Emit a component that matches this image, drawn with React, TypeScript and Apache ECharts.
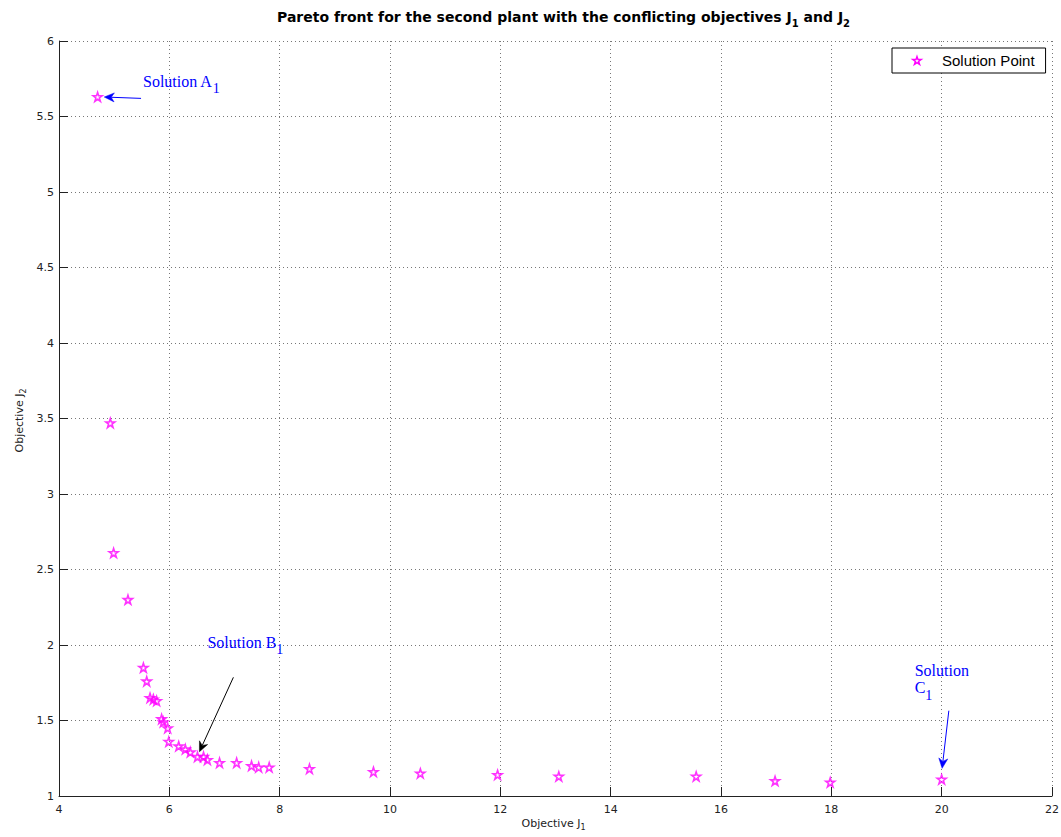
import React, { useEffect, useRef } from 'react';
import * as echarts from 'echarts';

// ---- data ----
const objectiveJ1 = [4.70, 4.93, 4.99, 5.25, 5.53, 5.59, 5.65, 5.71, 5.77, 5.86, 5.89, 5.97, 5.99, 6.17, 6.29, 6.38, 6.51, 6.62, 6.69, 6.91, 7.22, 7.49, 7.62, 7.81, 8.54, 9.70, 10.55, 11.95, 13.06, 15.55, 16.98, 17.98, 20.00];
const objectiveJ2 = [5.63, 3.47, 2.61, 2.30, 1.85, 1.76, 1.65, 1.64, 1.63, 1.51, 1.49, 1.45, 1.36, 1.33, 1.31, 1.29, 1.26, 1.26, 1.24, 1.22, 1.22, 1.20, 1.19, 1.19, 1.18, 1.16, 1.15, 1.14, 1.13, 1.13, 1.10, 1.09, 1.11];

const xTickValues = [4, 6, 8, 10, 12, 14, 16, 18, 20, 22];
const yTickValues = [1, 1.5, 2, 2.5, 3, 3.5, 4, 4.5, 5, 5.5, 6];

const seriesName = 'Solution Point';
type Run = { t: string; sub?: boolean };
const titleRuns: Run[] = [
  { t: 'Pareto front for the second plant with the conflicting objectives J' },
  { t: '1', sub: true },
  { t: ' and J' },
  { t: '2', sub: true },
];
const xNameRuns: Run[] = [{ t: 'Objective J' }, { t: '1', sub: true }];
const yNameRuns: Run[] = [{ t: 'Objective J' }, { t: '2', sub: true }];

// annotations (anchor = left edge / text middle of first line, in data coordinates)
const annotationTexts: { at: number[]; lines: Run[][] }[] = [
  { at: [5.523, 5.732], lines: [[{ t: 'Solution A' }, { t: '1', sub: true }]] },
  { at: [6.69, 2.017], lines: [[{ t: 'Solution B' }, { t: '1', sub: true }]] },
  { at: [19.511, 1.831], lines: [[{ t: 'Solution' }], [{ t: 'C' }, { t: '1', sub: true }]] },
];
const annotationArrows = [
  { from: [5.487, 5.62], to: [4.82, 5.629], color: '#0000ff' },
  { from: [7.161, 1.786], to: [6.545, 1.293], color: '#000000' },
  { from: [20.13, 1.565], to: [20.008, 1.183], color: '#0000ff' },
];

const SANS = 'Liberation Sans';
const DEJAVU = 'DejaVu Sans';
const SERIF = 'Liberation Serif';
const STAR = 'path://M50 0L61.2 34.5L97.6 34.5L68.2 55.9L79.4 90.5L50 69.1L20.6 90.5L31.8 55.9L2.4 34.5L38.8 34.5Z';

type FontSpec = { family: string; size: number; subSize: number; weight: string; dy: number; color: string };

const ctx = typeof document !== 'undefined' ? document.createElement('canvas').getContext('2d') : null;
function measure(text: string, size: number, family: string, weight: string) {
  if (!ctx) return text.length * size * 0.55;
  ctx.font = `${weight} ${size}px "${family}"`;
  return ctx.measureText(text).width;
}

function runElements(runs: Run[], f: FontSpec, x: number, y: number, align: 'left' | 'center') {
  const widths = runs.map((r) => measure(r.t, r.sub ? f.subSize : f.size, f.family, f.weight));
  const total = widths.reduce((a, b) => a + b, 0);
  let cx = align === 'center' ? x - total / 2 : x;
  const els: any[] = [];
  runs.forEach((r, i) => {
    els.push({
      type: 'text',
      x: cx,
      y: r.sub ? y + f.dy : y,
      silent: true,
      style: {
        text: r.t,
        fontSize: r.sub ? f.subSize : f.size,
        fontFamily: f.family,
        fontWeight: f.weight,
        fill: f.color,
        align: 'left',
        verticalAlign: 'middle',
      },
    });
    cx += widths[i];
  });
  return els;
}

function starPoints(cx: number, cy: number, r: number) {
  const pts: number[][] = [];
  for (let k = 0; k < 10; k++) {
    const a = (-90 + 36 * k) * Math.PI / 180;
    const rr = k % 2 === 0 ? r : r * 0.382;
    pts.push([cx + rr * Math.cos(a), cy + rr * Math.sin(a) + r * 0.1]);
  }
  return pts;
}

export default function App() {
  const ref = useRef<HTMLDivElement>(null);

  useEffect(() => {
    if (!ref.current) return;
    const chart = echarts.init(ref.current, undefined, { renderer: 'svg' });

    const gridLeft = 59;
    const gridRight = 9;
    const gridTop = 41;
    const gridBottom = 41;

    const option: any = {
      animation: false,
      backgroundColor: '#ffffff',
      legend: {
        data: [
          {
            name: seriesName,
            icon: 'rect',
            itemStyle: { color: 'rgba(255,255,255,0)', borderWidth: 0, opacity: 0 },
          },
        ],
        left: 892,
        top: 48,
        orient: 'vertical',
        itemGap: 0,
        padding: [5, 11, 5, 20],
        borderColor: '#000',
        borderWidth: 1,
        borderRadius: 0,
        backgroundColor: '#fff',
        textStyle: { fontSize: 15, color: '#000', fontFamily: SANS },
      },
      grid: { left: gridLeft, right: gridRight, top: gridTop, bottom: gridBottom, containLabel: false, outerBoundsMode: 'none' },
      xAxis: {
        type: 'value',
        min: xTickValues[0],
        max: xTickValues[xTickValues.length - 1],
        interval: xTickValues[1] - xTickValues[0],
        axisLine: { show: true, onZero: false, lineStyle: { color: '#222', width: 1 } },
        axisTick: { show: true, inside: true, length: 9, lineStyle: { color: '#222' } },
        axisLabel: { color: '#222', fontSize: 11, fontFamily: DEJAVU, margin: 8 },
        splitLine: { show: true, lineStyle: { color: '#777', type: [1, 3], width: 1 } },
      },
      yAxis: {
        type: 'value',
        min: yTickValues[0],
        max: yTickValues[yTickValues.length - 1],
        interval: yTickValues[1] - yTickValues[0],
        axisLine: { show: true, onZero: false, lineStyle: { color: '#222', width: 1 } },
        axisTick: { show: true, inside: true, length: 9, lineStyle: { color: '#222' } },
        axisLabel: { color: '#222', fontSize: 11, fontFamily: DEJAVU, margin: 5 },
        splitLine: { show: true, lineStyle: { color: '#777', type: [1, 3], width: 1 } },
      },
      series: [
        {
          name: seriesName,
          type: 'scatter',
          data: objectiveJ1.map((x, i) => [x, objectiveJ2[i]]),
          symbol: STAR,
          symbolSize: 9,
          itemStyle: { color: 'rgba(255,0,255,0)', borderColor: '#ff00ff', borderWidth: 1.6 },
          emphasis: { disabled: true },
          z: 3,
        },
      ],
    };

    chart.setOption(option);

    const px = (p: number[]) => chart.convertToPixel({ gridIndex: 0 }, p) as number[];
    const graphics: any[] = [];

    // legend marker (star) drawn inside the legend box
    graphics.push({
      type: 'polygon',
      silent: true,
      z: 100,
      zlevel: 0,
      shape: { points: starPoints(917, 60.5, 4.3) },
      style: { fill: 'rgba(0,0,0,0)', stroke: '#ff00ff', lineWidth: 1.5 },
    });

    // title
    graphics.push(
      ...runElements(
        titleRuns,
        { family: DEJAVU, size: 14, subSize: 10, weight: 'bold', dy: 6, color: '#000' },
        277,
        17,
        'left'
      )
    );

    // axis names
    const plotMidX = (gridLeft + (1061 - gridRight)) / 2;
    const plotMidY = (gridTop + (837 - gridBottom)) / 2;
    graphics.push(
      ...runElements(
        xNameRuns,
        { family: DEJAVU, size: 11, subSize: 8, weight: 'normal', dy: 4, color: '#222' },
        plotMidX - 2,
        823,
        'center'
      )
    );
    graphics.push({
      type: 'group',
      x: 19,
      y: plotMidY + 2,
      rotation: Math.PI / 2,
      silent: true,
      children: runElements(
        yNameRuns,
        { family: DEJAVU, size: 11, subSize: 8, weight: 'normal', dy: 4, color: '#222' },
        0,
        0,
        'center'
      ),
    });

    // annotation texts
    annotationTexts.forEach((a) => {
      const [x, y] = px(a.at);
      a.lines.forEach((line, li) => {
        graphics.push(
          ...runElements(
            line,
            { family: SERIF, size: 16, subSize: 14, weight: 'normal', dy: 7.5, color: '#0000ff' },
            x,
            y + li * 17.2,
            'left'
          )
        );
      });
    });

    // annotation arrows
    annotationArrows.forEach((a) => {
      const [x1, y1] = px(a.from);
      const [x2, y2] = px(a.to);
      const dx = x2 - x1;
      const dy = y2 - y1;
      const len = Math.sqrt(dx * dx + dy * dy);
      const ux = dx / len;
      const uy = dy / len;
      const nx = -uy;
      const ny = ux;
      const headLen = 10;
      const halfW = 4.5;
      const notch = 7;
      const bx = x2 - ux * headLen;
      const by = y2 - uy * headLen;
      graphics.push({
        type: 'line',
        silent: true,
        z: 10,
        shape: { x1, y1, x2: x2 - ux * notch, y2: y2 - uy * notch },
        style: { stroke: a.color, lineWidth: 1 },
      });
      graphics.push({
        type: 'polygon',
        silent: true,
        z: 10,
        shape: {
          points: [
            [x2, y2],
            [bx + nx * halfW, by + ny * halfW],
            [x2 - ux * notch, y2 - uy * notch],
            [bx - nx * halfW, by - ny * halfW],
          ],
        },
        style: { fill: a.color, stroke: a.color, lineWidth: 0.5 },
      });
    });

    chart.setOption({ graphic: graphics });

    return () => {
      chart.dispose();
    };
  }, []);

  return (
    <div
      ref={ref}
      style={{ position: 'fixed', left: 0, top: 0, width: 1061, height: 837, background: '#fff' }}
    />
  );
}
